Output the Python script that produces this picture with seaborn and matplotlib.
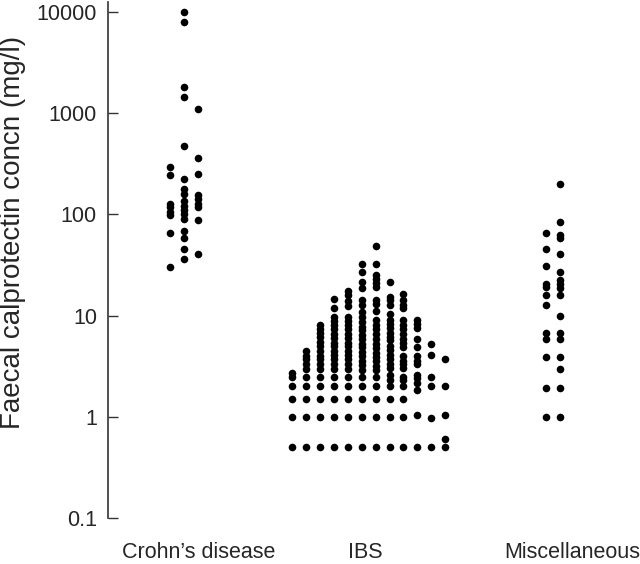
import numpy as np
import pandas as pd
import seaborn as sns
import matplotlib.pyplot as plt
import matplotlib.transforms as mtransforms
from matplotlib.ticker import FixedLocator, FixedFormatter, NullLocator

# values, one list per column of dots (mg/l)
groups = ["Crohn\u2019s disease", "IBS", "Miscellaneous"]

crohns_cols = [
    [297, 245, 126, 117, 106, 98, 66, 30],
    [9930, 7900, 1795, 1450, 471, 222, 177, 158, 136, 121, 110, 100, 91, 68, 59, 45, 36],
    [1097, 358, 249, 154, 141, 128, 117, 88, 41],
]

ibs_cols = [
    [0.5, 1, 1.5, 2, 2.5, 2.7],
    [0.5, 1, 1.5, 2, 2.5, 3, 3.3, 3.7, 4, 4.5],
    [0.5, 1, 1.5, 2, 2.5, 3, 3.3, 3.7, 4, 4.5, 5, 5.5, 6.2, 6.7, 7.4, 8],
    [0.5, 1, 1.5, 2, 2.5, 3, 3.3, 3.7, 4.1, 4.5, 5, 5.4, 6, 6.6, 7.3, 8, 8.8, 9.7, 11.9, 14.6],
    [0.5, 1, 1.5, 2, 2.5, 3, 3.3, 3.7, 4.1, 4.5, 5, 5.4, 6, 6.6, 7.3, 8, 8.8, 9.7, 12.4, 13.8, 15.8, 17.7],
    [0.5, 1, 1.5, 2, 2.5, 2.9, 3.25, 3.6, 4, 4.4, 4.85, 5.3, 5.85, 6.5, 7.2, 7.8, 8.7, 9.7, 10.8, 12.8, 14.1,
     18.8, 21.3, 26.8, 32.7],
    [0.5, 1, 1.5, 2, 2.5, 2.9, 3.2, 3.55, 3.9, 4.3, 4.8, 5.3, 5.85, 6.6, 7.3, 8, 9.1, 11, 13.1, 14.4, 19.1,
     21, 23, 25.1, 32, 48.6],
    [0.5, 1, 1.5, 2, 2.3, 2.6, 3.03, 3.35, 3.7, 4.1, 4.6, 5, 5.7, 6.2, 6.8, 7.6, 8.3, 9.1, 10.4, 12.8, 14.2,
     15.3, 21.3],
    [0.5, 1, 1.5, 2, 2.3, 2.5, 3.03, 3.3, 3.6, 4, 4.9, 5.4, 5.9, 6.6, 7.4, 8.1, 9, 11.9, 12.8, 14.4, 16.2],
    [0.5, 1.05, 1.85, 2.15, 2.4, 2.6, 3.3, 3.6, 4, 4.9, 5.9, 7.6, 8.3, 9.1],
    [0.5, 0.97, 2, 2.5, 4.1, 5.2],
    [0.5, 0.6, 1.05, 2, 3.7],
]

misc_cols = [
    [1.0, 1.94, 3.9, 5.9, 6.8, 12.6, 16.1, 19.2, 20.4, 31, 46, 65],
    [1.0, 1.94, 3.0, 3.9, 5.9, 6.8, 9.8, 16.1, 18.8, 20.7, 22.7, 27, 41, 59, 63, 84, 200],
]

yticks = [0.1, 1, 10, 100, 1000, 10000]
ytick_labels = ["0.1", "1", "10", "100", "1000", "10000"]

# layout
col_step = 14 / 184.5          # spacing between dot columns, in category units
label_nudge_px = [15, -3, 19]  # x label offsets as in the figure

rows = []
for gi, cols in enumerate([crohns_cols, ibs_cols, misc_cols]):
    n = len(cols)
    for j, col in enumerate(cols):
        for v in col:
            rows.append({"group": groups[gi], "x": gi + (j - (n - 1) / 2) * col_step, "value": v})
df = pd.DataFrame(rows)

sns.set_style("white")
plt.rcParams['font.family'] = ['Liberation Sans', 'DejaVu Sans']

fig = plt.figure(figsize=(6.4, 5.64), dpi=100)
ax = fig.add_axes([108 / 640, 46 / 564, 1 - 108 / 640, 516 / 564])

sns.scatterplot(data=df, x="x", y="value", color="black", s=30, linewidth=0, ax=ax, legend=False)

ax.set_yscale("log")
ax.set_ylim(0.1, 10 ** (4 + 10 / 101.2))
ax.set_xlim(-(184 - 108) / 184.5, (640 - 184) / 184.5)

ax.yaxis.set_major_locator(FixedLocator(yticks))
ax.yaxis.set_major_formatter(FixedFormatter(ytick_labels))
ax.yaxis.set_minor_locator(NullLocator())
ax.tick_params(axis="y", direction="in", length=7, width=1, color="#333333",
               labelsize=15.5, pad=8, left=True)

ax.set_xticks(range(len(groups)))
ax.set_xticklabels(groups)
ax.tick_params(axis="x", length=0, labelsize=15.5, pad=17)
for lab, dx in zip(ax.get_xticklabels(), label_nudge_px):
    lab.set_transform(lab.get_transform() + mtransforms.ScaledTranslation(dx / 100, 0, fig.dpi_scale_trans))

ax.set_xlabel("")
ax.set_ylabel("Faecal calprotectin concn (mg/l)", fontsize=20)
ax.yaxis.set_label_coords(-82 / 532, (518 - 232) / 516)

for side in ["top", "right", "bottom"]:
    ax.spines[side].set_visible(False)
ax.spines["left"].set_color("#333333")
ax.spines["left"].set_linewidth(1.2)

fig.savefig("out.png", dpi=100)
